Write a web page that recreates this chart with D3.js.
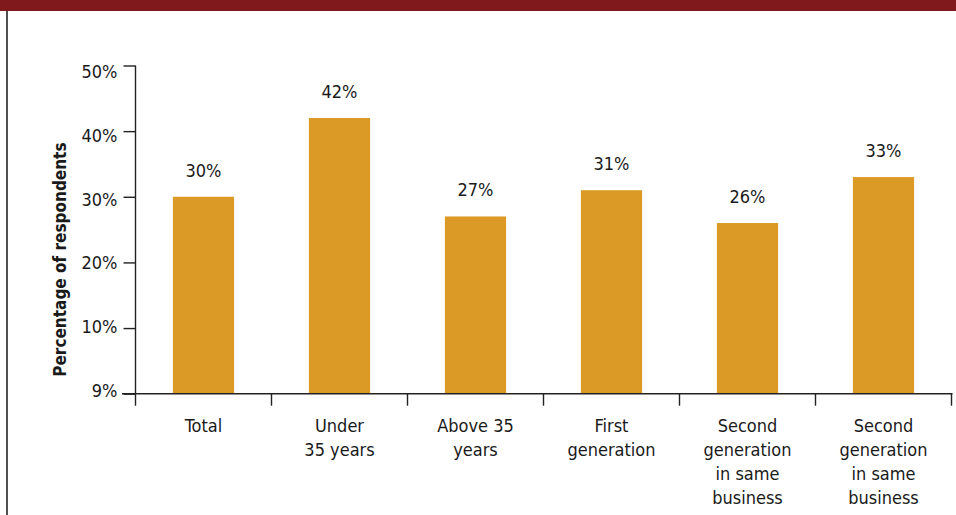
<!DOCTYPE html>
<html>
<head>
<meta charset="utf-8">
<script src="https://cdn.jsdelivr.net/npm/d3@7"></script>
<style>
  html, body { margin: 0; padding: 0; background: #fff; }
  svg { display: block; }
  text { font-family: "DejaVu Sans Condensed", "Liberation Sans Narrow", "DejaVu Sans", sans-serif; fill: #1a1a1a; }
</style>
</head>
<body>
<svg id="chart" width="956" height="515"></svg>
<script>
const categories = ["Total", "Under\n35 years", "Above 35\nyears", "First\ngeneration", "Second\ngeneration\nin same\nbusiness", "Second\ngeneration\nin same\nbusiness"];
const values = [30, 42, 27, 31, 26, 33];
const valueLabels = ["30%", "42%", "27%", "31%", "26%", "33%"];
const yTickValues = [0, 10, 20, 30, 40, 50];
const yTickLabels = ["9%", "10%", "20%", "30%", "40%", "50%"];
const yTitle = "Percentage of respondents";

const svg = d3.select("#chart");
const W = 956, H = 515;

// header band and left frame line
svg.append("rect").attr("x", 0).attr("y", 0).attr("width", W).attr("height", 11).attr("fill", "#7f191b");
svg.append("line").attr("x1", 7).attr("x2", 7).attr("y1", 11).attr("y2", H)
  .attr("stroke", "#222").attr("stroke-width", 1.6);

const x0 = 135.5, x1 = 951.5;
const yBase = 393.7, yTop = 65.5;

const x = d3.scaleBand().domain(d3.range(categories.length)).range([x0, x1]).padding(0);
const y = d3.scaleLinear().domain([0, 50]).range([yBase, yTop]);
// tick labels sit on a slightly tighter spacing than the ticks in the original
const yLab = d3.scaleLinear().domain([0, 50]).range([390.7, 72]);

// bars
const barW = x.step() * 0.45;
svg.append("g").selectAll("rect").data(values).join("rect")
  .attr("x", (d, i) => x(i) + x.bandwidth() / 2 - barW / 2)
  .attr("y", d => y(d))
  .attr("width", barW)
  .attr("height", d => y(0) - y(d))
  .attr("fill", "#db9a25");

// value labels
svg.append("g").selectAll("text").data(values).join("text")
  .attr("x", (d, i) => x(i) + x.bandwidth() / 2)
  .attr("y", d => y(d) - 20)
  .attr("text-anchor", "middle")
  .style("font-size", "18px")
  .text((d, i) => valueLabels[i]);

// y axis
const yAxis = d3.axisLeft(y).tickValues(yTickValues).tickSize(12).tickPadding(6)
  .tickFormat((d, i) => yTickLabels[i]);
const gy = svg.append("g").attr("transform", `translate(${x0},0)`).call(yAxis);
gy.select(".domain").remove();
gy.selectAll(".tick line").attr("stroke", "#222").attr("stroke-width", 1.4);
gy.selectAll(".tick text").style("font-size", "18px").style("font-family", null).attr("fill", "#1a1a1a")
  .attr("y", d => yLab(d) - y(d));
svg.append("line").attr("x1", x0).attr("x2", x0).attr("y1", yTop).attr("y2", yBase + 12)
  .attr("stroke", "#222").attr("stroke-width", 1.4);

// x axis line with ticks at category boundaries
svg.append("line").attr("x1", 122).attr("x2", x1 + 1).attr("y1", yBase).attr("y2", yBase)
  .attr("stroke", "#222").attr("stroke-width", 1.4);
const bounds = d3.range(categories.length).map(i => x(i) + x.step());
svg.append("g").selectAll("line").data(bounds).join("line")
  .attr("x1", d => d).attr("x2", d => d).attr("y1", yBase).attr("y2", yBase + 12)
  .attr("stroke", "#222").attr("stroke-width", 1.4);

// category labels
const cl = svg.append("g").selectAll("text").data(categories).join("text")
  .attr("x", (d, i) => x(i) + x.bandwidth() / 2)
  .attr("y", yBase + 38)
  .attr("text-anchor", "middle")
  .style("font-size", "18px");
cl.each(function(d, i) {
  const t = d3.select(this);
  d.split("\n").forEach((line, j) => {
    t.append("tspan").attr("x", x(i) + x.bandwidth() / 2).attr("dy", j === 0 ? 0 : 24).text(line);
  });
});

// y title
svg.append("text")
  .attr("transform", `translate(66,${(yTop + yBase) / 2 + 30}) rotate(-90)`)
  .attr("text-anchor", "middle")
  .style("font-size", "17px")
  .style("font-weight", "bold")
  .text(yTitle);
</script>
</body>
</html>
